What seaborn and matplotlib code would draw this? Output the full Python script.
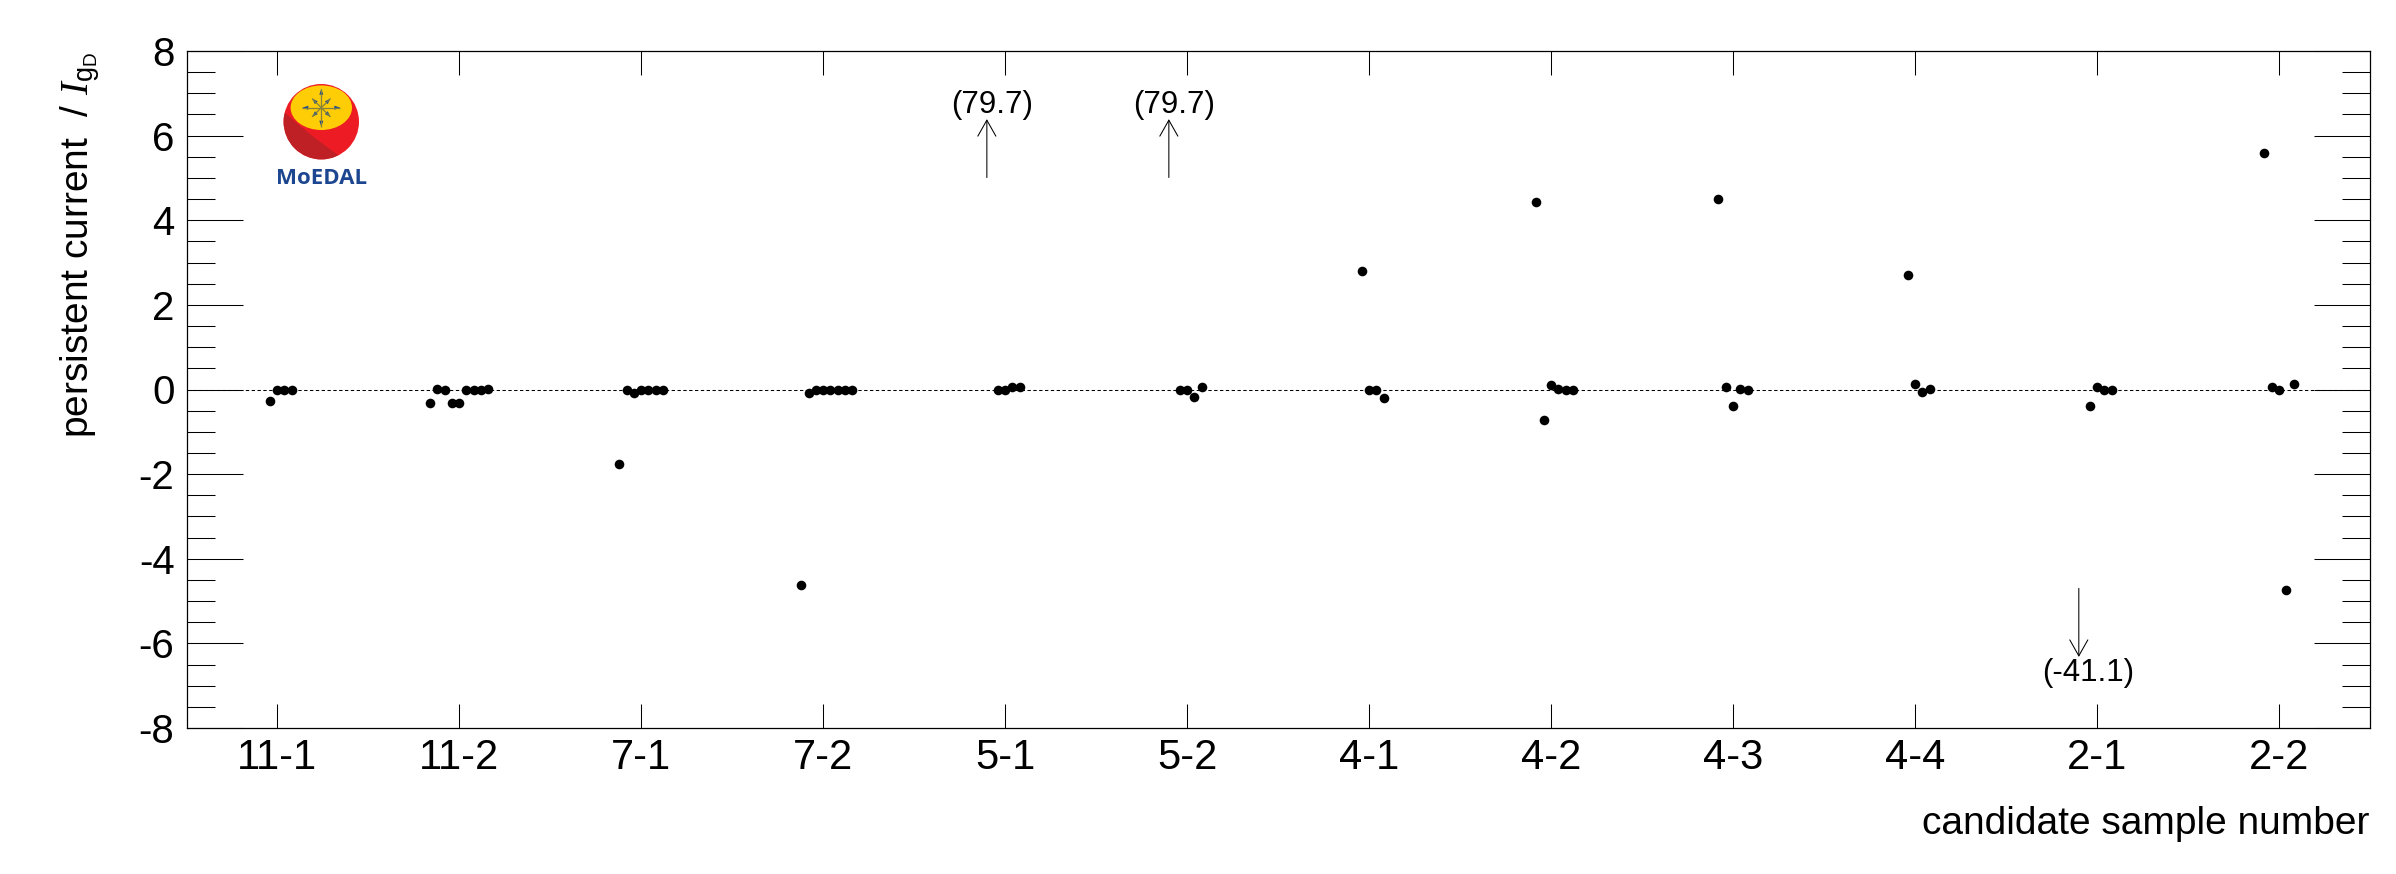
import numpy as np
import pandas as pd
import matplotlib
matplotlib.use('Agg')
import matplotlib.pyplot as plt
import seaborn as sns
from matplotlib.patches import Circle, Ellipse, PathPatch, Polygon
from matplotlib.path import Path
from matplotlib.ticker import MultipleLocator

#candidate samples, x offset of each measurement inside a sample and the measured current

samples = ['11-1', '11-2', '7-1', '7-2', '5-1', '5-2', '4-1', '4-2', '4-3', '4-4', '2-1', '2-2']

off_11_1 = [-0.04, 0.00, 0.04, 0.08]
cur_11_1 = [-0.28, 0.00, -0.02, 0.00]
off_11_2 = [-0.16, -0.12, -0.08, -0.04, 0.00, 0.04, 0.08, 0.12, 0.16]
cur_11_2 = [-0.31, 0.02, 0.00, -0.31, -0.31, 0.00, 0.00, -0.02, 0.02]
off_7_1 = [-0.12, -0.08, -0.04, 0.00, 0.04, 0.08, 0.12]
cur_7_1 = [-1.75, 0.00, -0.09, 0.00, 0.00, 0.00, 0.00]
off_7_2 = [-0.12, -0.08, -0.04, 0.00, 0.04, 0.08, 0.12, 0.16]
cur_7_2 = [-4.63, -0.09, 0.00, 0.00, 0.00, 0.00, 0.00, 0.00]
off_5_1 = [-0.04, 0.00, 0.04, 0.08]
cur_5_1 = [0.00, 0.00, 0.07, 0.07]
off_5_2 = [-0.04, 0.00, 0.04, 0.08]
cur_5_2 = [0.00, 0.00, -0.17, 0.06]
off_4_1 = [-0.04, 0.00, 0.04, 0.08]
cur_4_1 = [2.81, -0.02, -0.02, -0.19]
off_4_2 = [-0.08, -0.04, 0.00, 0.04, 0.08, 0.12]
cur_4_2 = [4.43, -0.71, 0.10, 0.02, -0.02, 0.00]
off_4_3 = [-0.08, -0.04, 0.00, 0.04, 0.08]
cur_4_3 = [4.51, 0.05, -0.40, 0.02, 0.00]
off_4_4 = [-0.04, 0.00, 0.04, 0.08]
cur_4_4 = [2.70, 0.14, -0.05, 0.02]
off_2_1 = [-0.04, 0.00, 0.04, 0.08]
cur_2_1 = [-0.40, 0.05, 0.00, 0.00]
off_2_2 = [-0.08, -0.04, 0.00, 0.04, 0.08]
cur_2_2 = [5.59, 0.05, 0.00, -4.75, 0.12]

all_off = [off_11_1, off_11_2, off_7_1, off_7_2, off_5_1, off_5_2, off_4_1, off_4_2, off_4_3, off_4_4, off_2_1, off_2_2]
all_cur = [cur_11_1, cur_11_2, cur_7_1, cur_7_2, cur_5_1, cur_5_2, cur_4_1, cur_4_2, cur_4_3, cur_4_4, cur_2_1, cur_2_2]

#values out of the plotted range, shown as arrows

off_scale = [3.90, 4.90, 9.90]
off_labels = ['(79.7)', '(79.7)', '(-41.1)']
off_start = [5.01, 5.01, -4.70]
off_tip = [6.39, 6.39, -6.32]
off_text_x = [3.93, 4.93, 9.95]
off_text_y = [6.53, 6.53, -6.90]

yticks = [-8, -6, -4, -2, 0, 2, 4, 6, 8]

rows = []
for i in range(len(samples)):
    for o, c in zip(all_off[i], all_cur[i]):
        rows.append({'x': i + o, 'current': c})
df = pd.DataFrame(rows)

sns.set_style('ticks')
plt.rcParams['font.family'] = ['Liberation Sans', 'DejaVu Sans']
plt.rcParams['mathtext.fontset'] = 'custom'
plt.rcParams['mathtext.rm'] = 'Liberation Sans'
plt.rcParams['mathtext.it'] = 'Liberation Serif:italic'
plt.rcParams['axes.unicode_minus'] = False

W, H = 2396, 874
fig = plt.figure(figsize=(W / 100, H / 100), dpi=100, facecolor='white')
ax = fig.add_axes([187 / W, 1 - 728 / H, 2183 / W, 677 / H])

ax.axhline(0, color='black', lw=0.75, linestyle=(0, (3.2, 2.4)), zorder=1)
sns.scatterplot(data=df, x='x', y='current', color='black', s=48, linewidth=0, ax=ax, zorder=3, legend=False)

for i in range(len(off_scale)):
    ax.annotate('', xy=(off_scale[i], off_tip[i]), xytext=(off_scale[i], off_start[i]),
                arrowprops=dict(arrowstyle='->,head_length=11.5,head_width=6.5', mutation_scale=1,
                                lw=0.75, color='black', shrinkA=0, shrinkB=0))
    ax.text(off_text_x[i], off_text_y[i], off_labels[i], fontsize=22.5, ha='center', va='baseline', color='black')

ax.set_xlim(-0.495, 11.5)
ax.set_ylim(-8, 8)
ax.set_xticks(range(len(samples)))
ax.set_xticklabels(samples)
ax.set_yticks(yticks)
ax.yaxis.set_minor_locator(MultipleLocator(0.5))
ax.tick_params(axis='x', which='major', direction='in', top=True, bottom=True, length=17, width=0.75, labelsize=30, pad=7, color='black', labelcolor='black')
ax.tick_params(axis='y', which='major', direction='in', left=True, right=True, length=40, width=0.75, labelsize=29, pad=9, color='black', labelcolor='black')
ax.tick_params(axis='y', which='minor', direction='in', left=True, right=True, length=20, width=0.75, color='black')
for s in ax.spines.values():
    s.set_linewidth(0.9)
    s.set_color('black')
    s.set_visible(True)

ax.set_xlabel('candidate sample number', fontsize=28, loc='right', labelpad=20, color='black')
ax.set_ylabel(r'persistent current  / $\mathit{I}_{\mathrm{g}_{\mathrm{D}}}$', fontsize=28, loc='top', labelpad=26, color='black')

#logo, drawn in the pixel coordinates of the picture

logo = fig.add_axes([270 / W, 1 - 200 / H, 110 / W, 150 / H])
logo.set_xlim(270, 380)
logo.set_ylim(200, 50)
logo.axis('off')
disc = Circle((321.3, 121.7), 37.7, color='#ed1c24', lw=0)
logo.add_patch(disc)
shade = PathPatch(Path([(280, 108), (300, 128), (338, 155), (337, 170), (270, 170), (280, 108)],
                       [Path.MOVETO, Path.CURVE3, Path.CURVE3, Path.LINETO, Path.LINETO, Path.CLOSEPOLY]),
                  color='#be2026', lw=0)
logo.add_patch(shade)
shade.set_clip_path(disc)
logo.add_patch(Ellipse((321.3, 107.7), 61.4, 44.6, color='#ffcd05', lw=0))
for a in np.arange(0, 360, 45):
    r = 19 if a % 90 == 0 else 13
    dx, dy = np.cos(np.radians(a)), np.sin(np.radians(a))
    logo.plot([321.3, 321.3 + r * dx], [107.7, 107.7 + r * dy], color='#85813a', lw=0.9, solid_capstyle='butt')
    logo.add_patch(Polygon([(321.3 + r * dx, 107.7 + r * dy),
                            (321.3 + (r - 6) * dx - 2 * dy, 107.7 + (r - 6) * dy + 2 * dx),
                            (321.3 + (r - 6) * dx + 2 * dy, 107.7 + (r - 6) * dy - 2 * dx)],
                           color='#1b4a96', lw=0))
logo.text(321.5, 184.5, 'MoEDAL', family=['Open Sans', 'DejaVu Sans'], fontweight='bold', fontsize=16,
          color='#1d4690', ha='center', va='baseline')

fig.savefig('out.png', dpi=100)
